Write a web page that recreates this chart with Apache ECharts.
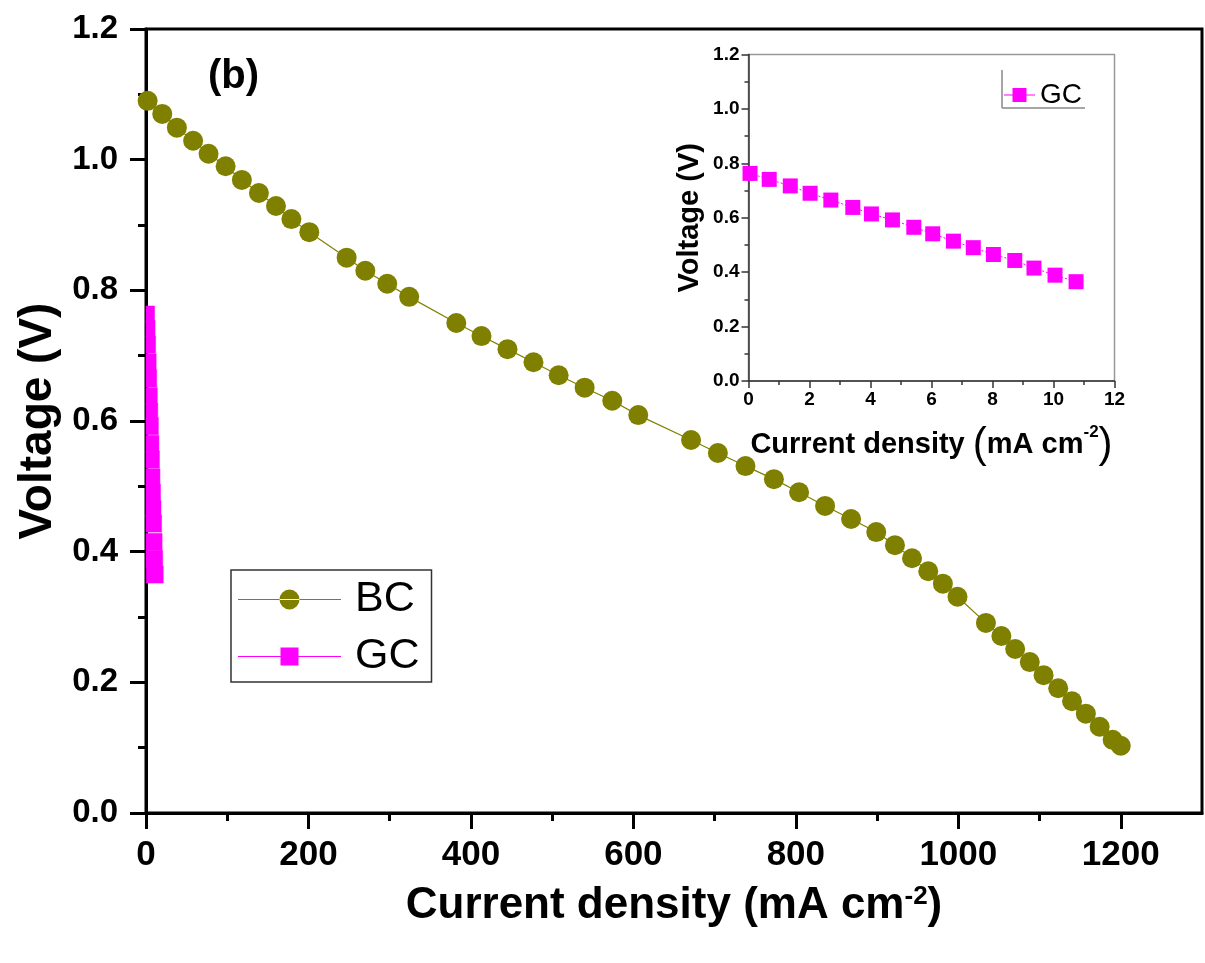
<!DOCTYPE html>
<html>
<head>
<meta charset="utf-8">
<title>BC / GC polarization</title>
<script src="https://cdn.jsdelivr.net/npm/echarts@6/dist/echarts.min.js"></script>
<style>
  html, body { margin: 0; padding: 0; background: #fff; }
  #chart { width: 1205px; height: 963px; }
</style>
</head>
<body>
<div id="chart"></div>
<script>
// BC cell, main plot (mA cm-2, V)
var bcCurrent = [2, 20, 38, 58, 77, 98, 118, 139, 160, 179, 201, 247, 270, 297, 324, 382, 413, 445, 477, 508,
  540, 574, 606, 671, 704, 738, 773, 804, 836, 868, 899, 922, 943, 963, 981, 999, 1034, 1053, 1070, 1088,
  1105, 1123, 1140, 1157, 1174, 1190, 1200];
var bcVoltage = [1.090, 1.070, 1.049, 1.029, 1.009, 0.990, 0.969, 0.949, 0.929, 0.909, 0.889, 0.850, 0.830, 0.810, 0.790, 0.750, 0.730, 0.710, 0.690, 0.670,
  0.651, 0.631, 0.609, 0.571, 0.551, 0.531, 0.511, 0.491, 0.470, 0.450, 0.430, 0.410, 0.390, 0.370, 0.351, 0.331, 0.291, 0.271, 0.251, 0.231,
  0.211, 0.191, 0.171, 0.152, 0.132, 0.112, 0.103];

// GC cell
var gcCurrent = [0.05, 0.68, 1.37, 2.02, 2.70, 3.42, 4.03, 4.72, 5.42, 6.04, 6.72, 7.37, 8.03, 8.73, 9.36, 10.05, 10.74];
var gcVoltage = [0.763, 0.741, 0.717, 0.690, 0.665, 0.638, 0.614, 0.592, 0.565, 0.541, 0.514, 0.490, 0.465, 0.443, 0.415, 0.389, 0.365];

// tick positions of the main x axis
var mainXMajor = [0, 200, 400, 600, 800, 1000, 1200];
var mainXMinor = [100, 300, 500, 700, 900, 1100];

function zip(a, b) {
  var out = [];
  for (var i = 0; i < a.length; i++) out.push([a[i], b[i]]);
  return out;
}

var FONT = 'Liberation Sans, Arial, sans-serif';
var chart = echarts.init(document.getElementById('chart'));

var option = {
  animation: false,
  backgroundColor: '#fff',
  textStyle: { fontFamily: FONT },
  title: {
    text: '(b)', left: 203, top: 52,
    textStyle: { fontSize: 40, fontWeight: 'bold', color: '#000', fontFamily: FONT }
  },
  grid: [
    { left: 146, top: 29, right: 3, bottom: 150, show: true, borderColor: '#000', borderWidth: 3, backgroundColor: 'transparent' },
    { left: 748.5, top: 54.5, right: 90.5, bottom: 582, show: true, borderColor: '#999', borderWidth: 1.5, backgroundColor: 'transparent' }
  ],
  xAxis: [
    {
      type: 'value', gridIndex: 0, min: 0, max: 1300,
      name: 'Current density (mA cm{sup|-2})', nameLocation: 'middle', nameGap: 71,
      nameTextStyle: {
        fontSize: 44, fontWeight: 'bold', color: '#000', fontFamily: FONT,
        rich: { sup: { fontSize: 26, fontWeight: 'bold', color: '#000', fontFamily: FONT, verticalAlign: 'top', padding: [0, 0, 18, 0] } }
      },
      axisLine: { onZero: false, lineStyle: { color: '#000', width: 3 } },
      axisTick: { inside: false, length: 16, lineStyle: { color: '#000', width: 3 }, customValues: mainXMajor },
      axisLabel: {
        customValues: mainXMajor, fontSize: 35, fontWeight: 'bold', color: '#000', margin: 25, fontFamily: FONT,
        formatter: function (v) { return String(v); }
      },
      splitLine: { show: false }
    },
    {
      type: 'value', gridIndex: 0, min: 0, max: 1300, position: 'bottom',
      axisLine: { show: false },
      axisTick: { inside: false, length: 8, lineStyle: { color: '#000', width: 3 }, customValues: mainXMinor },
      axisLabel: { show: false },
      splitLine: { show: false }
    },
    {
      type: 'value', gridIndex: 1, min: 0, max: 12, interval: 2,
      name: 'Current density {p|(}mA cm{sup|-2}{p|)}', nameLocation: 'middle', nameGap: 43,
      nameTextStyle: {
        fontSize: 29, fontWeight: 'bold', color: '#000', fontFamily: FONT,
        rich: {
          p: { fontSize: 42, fontWeight: 'normal', color: '#000', fontFamily: FONT },
          sup: { fontSize: 17, fontWeight: 'bold', color: '#000', fontFamily: FONT, verticalAlign: 'top', padding: [0, 0, 14, 0] }
        }
      },
      axisLine: { onZero: false, lineStyle: { color: '#333', width: 1.5 } },
      axisTick: { inside: false, length: 7, lineStyle: { color: '#333', width: 1.5 } },
      minorTick: { show: true, splitNumber: 2, length: 4, lineStyle: { color: '#333', width: 1.5 } },
      axisLabel: { fontSize: 19, fontWeight: 'bold', color: '#000', margin: 9, fontFamily: FONT },
      splitLine: { show: false }
    }
  ],
  yAxis: [
    {
      type: 'value', gridIndex: 0, min: 0, max: 1.2, interval: 0.2,
      name: 'Voltage (V)', nameLocation: 'middle', nameGap: 82,
      nameTextStyle: { fontSize: 46, fontWeight: 'bold', color: '#000', fontFamily: FONT },
      axisLine: { onZero: false, lineStyle: { color: '#000', width: 3 } },
      axisTick: { inside: false, length: 16, lineStyle: { color: '#000', width: 3 } },
      minorTick: { show: true, splitNumber: 2, length: 8, lineStyle: { color: '#000', width: 3 } },
      axisLabel: {
        fontSize: 33, fontWeight: 'bold', color: '#000', margin: 28, fontFamily: FONT,
        formatter: function (v) { return v.toFixed(1); }
      },
      splitLine: { show: false }
    },
    {
      type: 'value', gridIndex: 1, min: 0, max: 1.2, interval: 0.2,
      name: 'Voltage (V)', nameLocation: 'middle', nameGap: 44,
      nameTextStyle: { fontSize: 29, fontWeight: 'bold', color: '#000', fontFamily: FONT },
      axisLine: { onZero: false, lineStyle: { color: '#333', width: 1.5 } },
      axisTick: { inside: false, length: 7, lineStyle: { color: '#333', width: 1.5 } },
      minorTick: { show: true, splitNumber: 2, length: 4, lineStyle: { color: '#333', width: 1.5 } },
      axisLabel: {
        fontSize: 19, fontWeight: 'bold', color: '#000', margin: 9, fontFamily: FONT,
        formatter: function (v) { return v.toFixed(1); }
      },
      splitLine: { show: false }
    }
  ],
  legend: [
    {
      orient: 'vertical', left: 231, top: 570,
      padding: [8, 12, 4, 7], itemGap: 14,
      itemWidth: 103, itemHeight: 20,
      borderColor: '#333', borderWidth: 1.5, backgroundColor: '#fff',
      textStyle: { fontSize: 43, lineHeight: 43, color: '#000', fontFamily: FONT, padding: [0, 0, 0, 9] },
      data: [
        { name: 'BC', icon: 'path://M0,9.5h103v1h-103z M41.5,10a10,10 0 1,0 20,0a10,10 0 1,0 -20,0z', itemStyle: { color: '#808000' } },
        { name: 'GC', icon: 'path://M0,9.5h103v1h-103z M42.5,1h18v18h-18z', itemStyle: { color: '#ff00ff' } }
      ]
    },
    {
      orient: 'vertical', left: 1004, top: 81, padding: 0,
      itemWidth: 31, itemHeight: 14,
      textStyle: { fontSize: 28, lineHeight: 28, color: '#000', fontFamily: FONT },
      data: [
        { name: 'GC', icon: 'path://M0,6.5h31v1h-31z M8.5,0h14v14h-14z', itemStyle: { color: '#ff00ff' } }
      ]
    }
  ],
  graphic: [
    { type: 'line', shape: { x1: 1002, y1: 70, x2: 1002, y2: 108 }, style: { stroke: '#888', lineWidth: 1.5 } },
    { type: 'line', shape: { x1: 1002, y1: 108, x2: 1085, y2: 108 }, style: { stroke: '#888', lineWidth: 1.5 } }
  ],
  series: [
    {
      name: 'BC', type: 'line', xAxisIndex: 0, yAxisIndex: 0,
      data: zip(bcCurrent, bcVoltage),
      symbol: 'circle', symbolSize: 20,
      itemStyle: { color: '#808000' },
      lineStyle: { color: '#808000', width: 1.2 },
      z: 3
    },
    {
      // GC on the main scale: squares pile up at the axis and are clipped by the frame
      name: 'GC', type: 'custom', xAxisIndex: 0, yAxisIndex: 0,
      data: zip(gcCurrent, gcVoltage),
      encode: { x: 0, y: 1 },
      itemStyle: { color: '#ff00ff' },
      renderItem: function (params, api) {
        var p = api.coord([api.value(0), api.value(1)]);
        var s = 17;
        var cs = params.coordSys;
        var r = echarts.graphic.clipRectByRect(
          { x: p[0] - s / 2, y: p[1] - s / 2, width: s, height: s },
          { x: cs.x, y: cs.y, width: cs.width, height: cs.height }
        );
        if (!r) return null;
        return { type: 'rect', shape: r, style: { fill: '#ff00ff', stroke: '#ff00ff', lineWidth: 0.5 } };
      },
      z: 2
    },
    {
      name: 'GC', type: 'line', xAxisIndex: 2, yAxisIndex: 1,
      data: zip(gcCurrent, gcVoltage),
      symbol: 'rect', symbolSize: 15,
      itemStyle: { color: '#ff00ff' },
      lineStyle: { color: '#ff00ff', width: 1, type: [2, 2] }
    }
  ]
};

chart.setOption(option);
</script>
</body>
</html>
